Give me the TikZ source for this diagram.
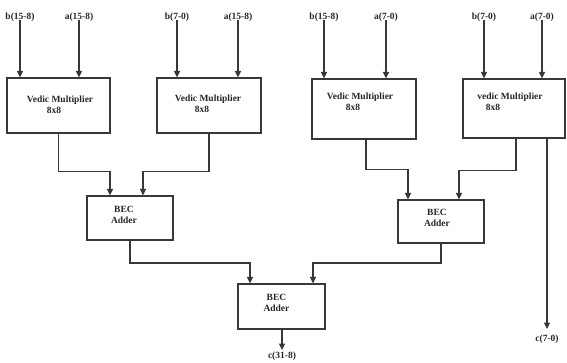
\documentclass[tikz,border=0pt]{standalone}
\usepackage{fontspec}
\setmainfont{Liberation Serif}
\usetikzlibrary{arrows.meta}
\begin{document}
\begin{tikzpicture}[x=1pt,y=-1pt,
  box/.style={draw=black!78,line width=1.2pt,rectangle,inner sep=0pt},
  txt/.style={font=\fontsize{9.5}{11}\selectfont\bfseries,text=black!85,align=center,inner sep=0pt},
  lbl/.style={font=\fontsize{9.5}{11}\selectfont\bfseries,text=black!85,inner sep=1pt},
  wire/.style={draw=black!78,line width=1.2pt},
  arr/.style={wire,-{Triangle[width=6pt,length=6.5pt]}}]
\useasboundingbox (0,0) rectangle (567,362);
% multipliers
\node[box,minimum width=103pt,minimum height=55pt] (m1) at (58.5,105.5) {};
\node[box,minimum width=104pt,minimum height=55pt] (m2) at (209,105.5) {};
\node[box,minimum width=104pt,minimum height=60pt] (m3) at (364,109) {};
\node[box,minimum width=102pt,minimum height=59pt] (m4) at (514,108.5) {};
\node[txt] (t1) at (60,105) {Vedic Multiplier\\\hspace*{-12pt}8x8};
\node[txt] (t2) at (208,104) {Vedic Multiplier\\\hspace*{-12pt}8x8};
\node[txt] (t3) at (360,101.5) {Vedic Multiplier\\\hspace*{-14pt}8x8};
\node[txt] (t4) at (510,101.5) {vedic Multiplier\\\hspace*{-34pt}8x8};
% BEC adders
\node[box,minimum width=86pt,minimum height=44pt] (b1) at (130,218) {};
\node[box,minimum width=86pt,minimum height=43pt] (b2) at (441,221.5) {};
\node[box,minimum width=87pt,minimum height=45pt] (b3) at (281.5,306.5) {};
\node[txt] (tb1) at (124,215) {BEC\\Adder};
\node[txt] (tb2) at (437,218) {BEC\\Adder};
\node[txt] (tb3) at (276.5,303) {BEC\\Adder};
% input labels
\node[lbl] (i1) at (20,17) {b(15-8)};
\node[lbl] (i2) at (79,17) {a(15-8)};
\node[lbl] (i3) at (177,17) {b(7-0)};
\node[lbl] (i4) at (238,17) {a(15-8)};
\node[lbl] (i5) at (324,17) {b(15-8)};
\node[lbl] (i6) at (386,17) {a(7-0)};
\node[lbl] (i7) at (484,17) {b(7-0)};
\node[lbl] (i8) at (542,17) {a(7-0)};
\foreach \i/\m in {1/m1,2/m1,3/m2,4/m2,5/m3,6/m3,7/m4,8/m4}
  \draw[arr] ([yshift=3pt]i\i.south) -- (i\i.south |- \m.north);
% multiplier outputs
\draw[arr] (m1.south) -- ++(0,38) -| ([xshift=-20pt]b1.north);
\draw[arr] (m2.south) -- ++(0,38) -| ([xshift=13pt]b1.north);
\draw[arr] ([xshift=2pt]m4.south -| m3.south) -- ++(0,31) -| ([xshift=-33pt]b2.north);
\draw[arr] ([xshift=2pt]m4.south) -- ++(0,31.5) -| ([xshift=18pt]b2.north);
% BEC outputs
\draw[arr] (b1.south) -- (130,263) -| ([xshift=-31.5pt]b3.north);
\draw[arr] (b2.south) -- (441,263) -| ([xshift=31.5pt]b3.north);
% outputs
\coordinate (o1) at (282,350);
\coordinate (o2) at (547,329);
\draw[arr] ([xshift=0.5pt]b3.south) -- (o1);
\draw[arr] ([xshift=33pt]m4.south) -- (o2);
\node[lbl] (c1) at (282,356) {c(31-8)};
\node[lbl] (c2) at (547,339) {c(7-0)};
\end{tikzpicture}
\end{document}
